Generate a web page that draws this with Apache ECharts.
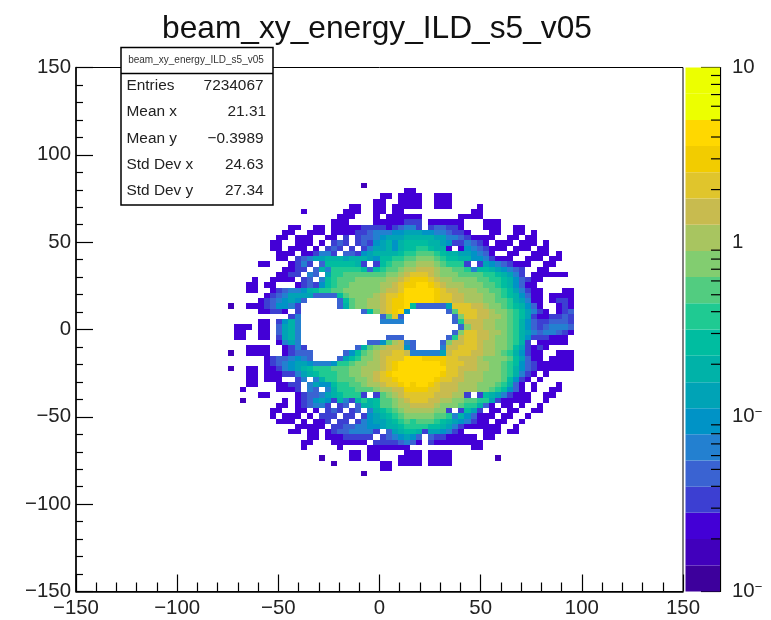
<!DOCTYPE html>
<html><head><meta charset="utf-8">
<script src="https://cdn.jsdelivr.net/npm/echarts@6/dist/echarts.min.js"></script>
<style>html,body{margin:0;padding:0;background:#fff}#c{width:771px;height:620px;filter:blur(0.5px)}</style>
</head><body><div id="c"></div>
<script>
const chartTitle = "beam_xy_energy_ILD_s5_v05";
const statsLabels = ["Entries","Mean x","Mean y","Std Dev x","Std Dev y"];
const statsValues = ["7234067","21.31","\u22120.3989","24.63","27.34"];
const zEdges = [0.01,0.0141,0.02,0.0282,0.0398,0.0562,0.0794,0.112,0.158,0.224,0.316,0.447,0.631,0.891,1.26,1.78,2.51,3.55,5.01,7.08,10];
const zMinor = [0.02,0.03,0.04,0.05,0.06,0.07,0.08,0.09,0.2,0.3,0.4,0.5,0.6,0.7,0.8,0.9,2,3,4,5,6,7,8,9];
const levelColors = ["#3d009c","#4100bc","#4300d6","#3c3fd2","#3a63d2","#2380d0","#0093c6","#00a3b6","#00b2a8","#00bda0","#1fca92","#52cc80","#82cd70","#a8c560","#c8bb4f","#e0c52c","#f2cc00","#ffd800","#ecff00","#ecff00"];
const cellSize = 3;
const firstBinX = -75;
const topBinY = 84;
// one string per row of bins, top to bottom; '.' empty, base-36 digit = contour level
const levelRows = [
"..........  ..........  ..1.......",
"..........  ..........  .........2  2.........",
"..........  ..........  .....22.22  22..222...",
"..........  ..........  ....22..22  22..222...",
"..........  ..........  22..22.222  22..222...  .2........",
"..........  ..2......2  22..22.22.  ..........  22........",
"..........  ........22  2...2.2222  22......22  22........",
"..........  .......222  ....222223  33.222222.  ..222.....",
"..........  22..22.222  2233332345  53.344332.  ..222..22.",
".........2  2..222.222  2334555667  7766554332  ...22..22.  2......",
"........22  .222..22.3  .344567778  8888775543  2222..22.2  2......",
".......22.  .222.2.343  .343678689  9998876335  432.222.22  2.2....",
".......22.  222.2.343.  3.35778689  9aa9882.26  543222.222  .22....",
"........22  2.223553.4  436788889a  abbba98877  6542..22..  222.2..",
"........22  .345778887  8887699aab  bcccba9988  6653222..2  22.22..",
".....22...  2353.49999  983.39abbc  cdddcbaaa3  .376543222  ..22...",
".........2  233.485aaa  aa949abbcd  deeedccbba  599876543.  .22....",
"........22  33.54.7aab  bbbbbbccde  fffedcccbb  bbaa98753.  222222.",
"....2..222  2.34.59abb  bcccccddef  gggfeddccc  cbbaa98643  22.....",
"...22.22..  .234369abb  cccccddefg  ghhgfedddc  ccbba98642  2......",
"...22..234  55689aabbc  cccccdeefh  hhhhgfeedd  dccbba9753  22...22",
"......2345  777744449b  ccccdeffgh  hhhhgffeed  ddccba9864  22.2222",
".....23456  764.....49  bccddefggh  hhhhgffeed  ddccbba875  22.2332",
"1..2223466  53......48  bccddefggh  9444447fff  eedccba986  42..232",
".....22332  .3........  ..49cefgh6  ......4bff  feedccba97  532.234",
"..........  35........  .....4bf4.  .......4cf  feeddcba97  3223343",
".....22.36  85........  .....5555.  .......4ae  eeddccba86  4334443",
".222.22.47  85........  ..........  ........4c  eeddccba86  4345554",
".22..22.47  85........  ..........  .......4cf  feeddcba87  5455432",
".22..22.37  85........  ......444.  ......4aef  feedccba86  333222.",
"........25  75........  ...446bde5  4....4ceef  feddccba83  .22222.",
"...2222..2  353.......  .48bcdeee6  4....5eeff  feddccb973  232....",
"1..2222..2  3444.....4  69bcdeeffe  555557efff  eeddcba863  22..222",
"......2344  5654....47  9accdefffh  hhggggffee  edccccb974  22.2222",
"......2345  67765556aa  bccddefghh  hhhhhgfffe  eddccba964  3222222",
"1..22.2235  6789aaabbb  ccdddefghh  hhhhhhffee  eddccba864  3222222",
"...22.2223  35789aaabb  ccddefghhh  hhhhhgffed  ddcccba853  2.2....",
"...22.222.  .35.58aabb  bccdeffghh  hhhhgffeed  ddcccb9632  .2.....",
"...22...22  33.57669aa  bbcddeffgh  ghhgfeeedd  dcccba842.  2...2..",
"..2.....22  23.54.58aa  abbbcddeeg  gggffeeedd  dccba9642.  2..22..",
".....22...  .23445789a  aa3.3bcdef  ffffeeedd3  .398753222  ..22...",
"..1......2  .234676385  38a89bbcde  fffeeddccb  baa7322222  ..2....",
"........22  .234553.34  .4889bbcdd  eeeedcccba  a842.22.2.  .2.....",
".......22.  .22.2.343.  34.589abcd  ddddcc3.39  73.22.22..  22.....",
".......2.2  22.2.333.3  3.36789abc  ccccbba586  4222.22..2",
"........22  2.2.223.33  .3567789ab  abbba98765  322.22..2.",
"..........  .22222.334  455667889a  aaa9987532  22222..2..",
"..........  22.22.2344  55553.4789  983776532.  ..222.22..",
"..........  ...22.2223  3333.34567  64.4332222  2.22......",
"..........  ..22...222  222.333345  42.3222222  22........",
"..........  ..2.....2.  ...2222222  ..........  22........",
"..........  ..........  22.22....2  22.2222...",
"..........  .....1....  22.22...22  22.2222...  ....1.....",
"..........  .......1..  .....22.22  22.2222...",
"..........  ..........  .....22...",
"..........  ..........  ..1......."
];

const cells = [];
levelRows.forEach((row, j) => {
  row.replace(/ /g, "").split("").forEach((ch, i) => {
    if (ch !== ".") cells.push([firstBinX + i * cellSize, topBinY - j * cellSize, parseInt(ch, 36)]);
  });
});
const barData = levelColors.map((c, k) => [zEdges[k], zEdges[k + 1], k]);
const FONT = "'Liberation Sans', Arial, sans-serif";
const fmtMinus = v => String(v).replace("-", "\u2212");

const chart = echarts.init(document.getElementById("c"));
const axisCommon = {
  type: "value", min: -150, max: 150, interval: 50,
  splitLine: {show: false},
  axisLine: {show: true, onZero: false, lineStyle: {color: "#000", width: 1.5}},
  axisLabel: {color: "#222", fontFamily: FONT, fontSize: 20.4, formatter: fmtMinus, margin: 5, hideOverlap: false}
};
const statsGraphics = [
  {type: "rect", z: 100, shape: {x: 121, y: 47.5, width: 152, height: 157.5}, style: {fill: "#fff", stroke: "#000", lineWidth: 1.5}},
  {type: "line", z: 101, shape: {x1: 121, y1: 73.5, x2: 273, y2: 73.5}, style: {stroke: "#000", lineWidth: 1.5}},
  {type: "text", z: 101, style: {x: 196, y: 60, text: chartTitle, fill: "#333", font: "10px " + FONT, textAlign: "center", textVerticalAlign: "middle"}}
];
const statsY = [86, 112, 139, 165, 191];
statsLabels.forEach((s, i) => {
  statsGraphics.push({type: "text", z: 101, style: {x: 126.5, y: statsY[i], text: s, fill: "#222", font: "15.4px " + FONT, textAlign: "left", textVerticalAlign: "middle"}});
  statsGraphics.push({type: "text", z: 101, style: {x: i === 1 ? 266 : 263.5, y: statsY[i], text: statsValues[i], fill: "#222", font: "15.4px " + FONT, textAlign: "right", textVerticalAlign: "middle"}});
});

chart.setOption({
  animation: false,
  backgroundColor: "#fff",
  title: {text: chartTitle, left: 372, top: 8, textAlign: "center", textStyle: {fontFamily: FONT, fontWeight: "normal", fontSize: 31.7, color: "#111"}},
  grid: [
    {left: 76, top: 67.5, width: 607, height: 524, show: true, borderColor: "#000", borderWidth: 1, backgroundColor: "#fff"},
    {left: 685.5, top: 67.5, width: 34.5, height: 524}
  ],
  xAxis: [
    Object.assign({}, axisCommon, {gridIndex: 0, position: "bottom",
      axisTick: {show: true, inside: true, length: 17, lineStyle: {color: "#000", width: 1.2}},
      minorTick: {show: true, splitNumber: 5, length: 9, lineStyle: {color: "#000", width: 1.2}},
      axisLabel: Object.assign({}, axisCommon.axisLabel, {margin: 7})}),
    {type: "value", gridIndex: 1, min: 0, max: 1, show: false}
  ],
  yAxis: [
    Object.assign({}, axisCommon, {gridIndex: 0, position: "left",
      axisTick: {show: true, inside: true, length: 17, lineStyle: {color: "#000", width: 1.2}},
      minorTick: {show: true, splitNumber: 5, length: 7, lineStyle: {color: "#000", width: 1.2}}}),
    {type: "log", logBase: 10, gridIndex: 1, min: 0.01, max: 10, position: "right", splitLine: {show: false},
      axisLine: {show: true, onZero: false, lineStyle: {color: "#000", width: 1.2}},
      axisTick: {show: true, inside: true, length: 19, lineStyle: {color: "#000", width: 1.2}},
      axisLabel: {margin: 12, color: "#222", fontFamily: FONT, fontSize: 20.4,
        formatter: v => v >= 1 ? String(Math.round(v)) : "{n|10}{s|\u2212}",
        rich: {n: {fontFamily: FONT, fontSize: 20.4, color: "#222"}, s: {fontFamily: FONT, fontSize: 13, color: "#222", verticalAlign: "top", padding: [0, 0, 8, 0]}}}}
  ],
  series: [
    {type: "custom", xAxisIndex: 0, yAxisIndex: 0, coordinateSystem: "cartesian2d", data: cells, encode: {x: 0, y: 1}, silent: true,
      renderItem(params, api) {
        const x = api.value(0), y = api.value(1);
        const a = api.coord([x, y]), b = api.coord([x + cellSize, y - cellSize]);
        const x0 = Math.round(a[0]), y0 = Math.round(a[1]), x1 = Math.round(b[0]), y1 = Math.round(b[1]);
        return {type: "rect", shape: {x: x0, y: y0, width: x1 - x0, height: y1 - y0}, style: {fill: levelColors[api.value(2)]}};
      }},
    {type: "custom", xAxisIndex: 1, yAxisIndex: 1, coordinateSystem: "cartesian2d", data: barData, encode: {y: [0, 1]}, silent: true, z: 1,
      renderItem(params, api) {
        const a = api.coord([0, api.value(1)]), b = api.coord([1, api.value(0)]);
        return {type: "rect", shape: {x: a[0], y: a[1], width: b[0] - a[0], height: b[1] - a[1]}, style: {fill: levelColors[api.value(2)]}};
      }},
    {type: "custom", xAxisIndex: 1, yAxisIndex: 1, coordinateSystem: "cartesian2d", data: zMinor.map(v => [v]), encode: {y: 0}, silent: true, z: 3,
      renderItem(params, api) {
        const p = api.coord([1, api.value(0)]);
        return {type: "line", shape: {x1: p[0] - 9, y1: p[1], x2: p[0], y2: p[1]}, style: {stroke: "#000", lineWidth: 1.2}};
      }}
  ],
  graphic: statsGraphics
});
</script></body></html>
